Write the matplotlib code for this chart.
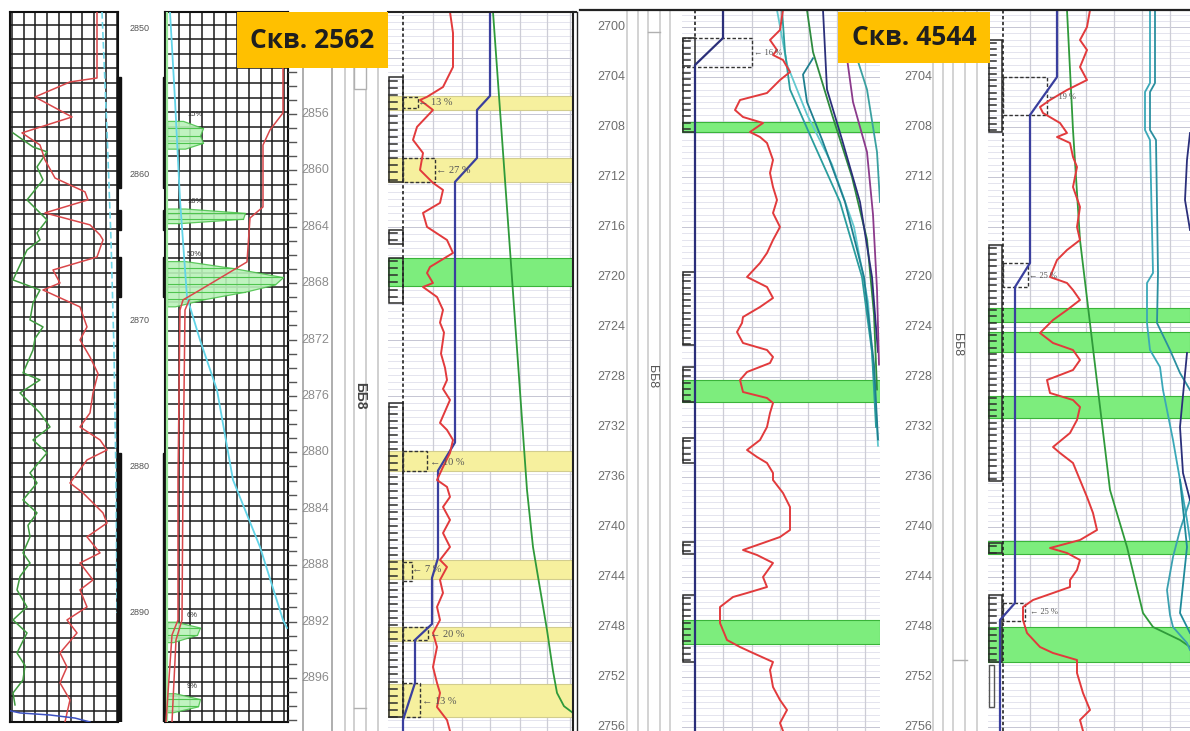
import numpy as np
import matplotlib.pyplot as plt
from matplotlib.patches import Rectangle

plt.rcParams['font.family'] = ['Liberation Sans', 'DejaVu Sans']

# ---------------- Скв. 2562 : old paper log (depth, reading) ----------------
old_top, old_base = 2848.84, 2897.47
old_depth_labels = [2850, 2860, 2870, 2880, 2890]

old_red = [(2848.84, 87), (2853.36, 87), (2853.63, 60), (2854.66, 25), (2856.03, 62), (2857.12, 12),
           (2857.95, 30), (2858.97, 35), (2860.21, 45), (2861.16, 75), (2861.71, 78), (2862.6, 35),
           (2863.42, 80), (2864.11, 90), (2864.45, 93), (2865.62, 87), (2866.51, 43), (2867.4, 50),
           (2867.88, 33), (2869.04, 70), (2870.41, 77), (2871.3, 70), (2872.47, 80), (2873.6, 88),
           (2874.93, 83), (2876.3, 80), (2877.26, 70), (2878.15, 90), (2878.84, 97), (2879.52, 77),
           (2881.1, 60), (2881.78, 73), (2883.15, 93), (2883.84, 97), (2884.79, 77), (2885.89, 90),
           (2886.58, 70), (2887.74, 83), (2888.42, 70), (2889.59, 77), (2890.48, 57), (2891.37, 67),
           (2892.74, 50), (2893.7, 57), (2894.79, 50), (2895.96, 60), (2896.85, 57), (2897.47, 55)]

old_green = [(2857.12, 3), (2857.6, 13), (2858.08, 23), (2858.42, 37), (2859.45, 27), (2860.34, 33),
             (2861.71, 17), (2863.08, 37), (2863.97, 27), (2864.45, 30), (2865.14, 17), (2867.19, 3),
             (2867.88, 30), (2868.77, 23), (2869.93, 20), (2870.41, 33), (2871.2, 25), (2871.99, 23),
             (2873.56, 13), (2874.04, 30), (2874.93, 10), (2876.3, 30), (2877.26, 40), (2878.15, 23),
             (2879.04, 37), (2880.41, 20), (2881.1, 27), (2882.26, 13), (2883.15, 27), (2884.0, 18),
             (2884.79, 20), (2885.89, 13), (2886.58, 20), (2887.5, 10), (2888.42, 7), (2889.59, 17),
             (2890.48, 3), (2891.37, 17), (2892.74, 7), (2893.6, 15), (2894.59, 13), (2895.48, 3),
             (2896.3, 5)]

old_cyan = [(2848.84, 92), (2857.0, 97), (2864.45, 101), (2872.0, 104), (2880.9, 106), (2890.0, 107)]
old_blue = [(2896.7, 0), (2896.85, 10), (2896.99, 40), (2897.2, 65), (2897.47, 80)]
old_perforations = [(2853.29, 2860.89), (2862.4, 2863.77), (2865.62, 2868.36), (2879.04, 2897.47)]

res_cyan = [(2848.84, 5), (2854.86, 10), (2861.71, 15), (2868.36, 22), (2871.3, 35), (2874.73, 52),
            (2880.89, 68), (2885.48, 95), (2890.48, 118), (2891.03, 122)]
res_red_1 = [(2848.84, 118), (2855.75, 118), (2856.92, 105), (2857.95, 98), (2862.19, 98), (2862.95, 85),
             (2865.96, 82), (2867.88, 35), (2868.56, 18), (2869.25, 15), (2880.89, 13), (2890.48, 13),
             (2891.51, 7), (2897.47, 1)]
res_red_2 = [(2868.6, 24), (2869.25, 20), (2880.89, 18), (2890.48, 17), (2891.85, 11), (2897.47, 7)]
res_edge = [(old_top, 2), (old_base, 2)]

# oil shows on the old resistivity track: label, depths, right edge
old_shows = [
    ('15%', [2856.3, 2856.8, 2857.3, 2857.8, 2858.2], [18, 38, 35, 38, 20]),
    ('16%', [2862.3, 2862.6, 2863.0, 2863.3], [20, 80, 78, 15]),
    ('50%', [2865.9, 2866.4, 2867.0, 2867.5, 2868.0, 2868.5, 2869.0], [20, 70, 118, 110, 80, 40, 10]),
    ('6%', [2890.6, 2891.0, 2891.5, 2892.0], [10, 35, 32, 8]),
    ('9%', [2895.5, 2895.9, 2896.4, 2896.8], [10, 35, 33, 8]),
]

# ---------------- Скв. 2562 : modern interpretation ----------------
new_top, new_base = 2848.77, 2899.76
new_depth_labels = list(range(2856, 2900, 4))

gk_2562 = [(2848.77, 62), (2850.26, 65), (2852.67, 65), (2854.09, 55), (2854.79, 39), (2855.01, 32),
           (2855.72, 45), (2856.92, 29), (2857.84, 25), (2858.77, 35), (2859.97, 32), (2860.89, 45),
           (2861.39, 55), (2862.31, 52), (2863.02, 35), (2864.01, 39), (2864.94, 59), (2865.86, 65),
           (2866.85, 42), (2867.28, 39), (2867.99, 45), (2868.27, 35), (2868.98, 49), (2869.9, 55),
           (2870.8, 52), (2871.5, 56), (2872.03, 55), (2873.0, 53), (2874.0, 57), (2874.87, 59),
           (2875.5, 55), (2876.28, 62), (2877.91, 52), (2878.41, 59), (2879.12, 65), (2880.04, 62),
           (2881.04, 55), (2881.96, 49), (2882.45, 59), (2883.16, 62), (2883.87, 55), (2884.79, 62),
           (2885.72, 55), (2886.71, 62), (2887.63, 52), (2888.13, 59), (2889.05, 52), (2889.97, 55),
           (2890.96, 49), (2891.89, 52), (2892.81, 45), (2893.8, 49), (2895.22, 45), (2896.35, 49),
           (2897.06, 52), (2898.06, 49), (2898.98, 59), (2899.76, 62)]
kp_2562 = [(2848.77, 102), (2854.72, 102), (2855.72, 89), (2859.12, 89), (2860.82, 67), (2879.3, 67),
           (2881.3, 50), (2887.49, 50), (2888.91, 44), (2892.17, 44), (2893.3, 27), (2896.35, 27),
           (2898.98, 15), (2899.76, 15)]
rt_2562 = [(2848.77, 105), (2865.65, 122), (2882.67, 139), (2886.71, 145), (2892.6, 159), (2895.5, 165),
           (2897.06, 169), (2898.0, 176), (2898.48, 185)]

yellow_2562 = [(2854.7, 2855.7), (2859.1, 2860.8), (2879.9, 2881.3), (2887.6, 2889.0), (2892.4, 2893.4),
               (2896.4, 2898.8)]
green_2562 = [(2866.2, 2868.2)]
lith_2562 = [(2853.4, 2860.8), (2864.2, 2865.2), (2866.2, 2869.4), (2876.5, 2898.8)]
boxes_2562 = [(2854.8, 2855.6, 30), (2859.1, 2860.8, 47), (2879.9, 2881.3, 39), (2887.8, 2889.1, 24),
              (2892.4, 2893.3, 40), (2896.35, 2898.8, 32)]
notes_2562 = [('← 13 %', 2855.2, 30), ('← 27 %', 2860.0, 48), ('← 10 %', 2880.7, 42),
              ('← 7 %', 2888.3, 24), ('← 20 %', 2892.95, 42), ('← 13 %', 2897.7, 34)]

# ---------------- Скв. 4544 ----------------
top_4544, base_4544 = 2698.64, 2756.32
depth_labels_4544 = list(range(2700, 2757, 4))
depth_labels_4544_right = list(range(2704, 2757, 4))  # 2700 sits under the well title

# left column of the slide (reference well)
kp_a = [(2698.64, 41), (2700.88, 41), (2703.04, 13), (2756.32, 13)]
gk_a = [(2698.64, 101), (2700.24, 98), (2701.04, 88), (2701.84, 95), (2702.24, 91), (2702.64, 101),
        (2703.6, 108), (2704.24, 98), (2705.28, 85), (2705.84, 58), (2706.64, 53), (2707.2, 61),
        (2707.68, 81), (2708.4, 68), (2708.8, 78), (2709.28, 85), (2710.64, 91), (2711.68, 88),
        (2712.8, 91), (2713.84, 95), (2714.88, 91), (2716.0, 98), (2717.04, 91), (2718.08, 85),
        (2718.88, 78), (2720.0, 65), (2720.8, 85), (2721.68, 91), (2722.4, 78), (2723.2, 61),
        (2723.68, 60), (2724.4, 55), (2725.28, 61), (2725.84, 85), (2726.4, 91), (2726.88, 88),
        (2727.6, 65), (2728.24, 58), (2729.2, 61), (2729.68, 85), (2730.08, 91), (2730.88, 88),
        (2732.0, 85), (2733.04, 78), (2733.84, 65), (2734.4, 75), (2734.88, 85), (2735.68, 91),
        (2736.24, 91), (2737.28, 101), (2738.4, 108), (2740.24, 108), (2740.8, 98), (2741.28, 81),
        (2741.84, 61), (2742.24, 75), (2742.88, 91), (2744.0, 81), (2744.8, 85), (2745.28, 65),
        (2745.6, 51), (2746.4, 38), (2747.68, 38), (2749.04, 45), (2749.6, 58), (2750.08, 71),
        (2750.8, 91), (2751.44, 88), (2752.8, 91), (2753.84, 98), (2754.64, 105), (2755.68, 98),
        (2756.32, 101)]
fan_a = [
    ('#63c9cf', [(2698.64, 95), (2703, 105), (2707, 125), (2711, 150), (2716, 172), (2722, 186),
                 (2728, 192), (2733.5, 196)]),
    ('#2a9d9d', [(2698.64, 100), (2702, 103), (2705, 108), (2709, 130), (2714, 158), (2720, 180),
                 (2726, 190), (2732, 194)]),
    ('#2e8b3e', [(2698.64, 125), (2702, 131), (2707, 150), (2712, 170), (2717, 185), (2723, 192),
                 (2729, 195)]),
    ('#1f7f8f', [(2702.5, 131), (2703.8, 121), (2706, 125), (2709, 140), (2714, 163), (2720, 182),
                 (2727, 192), (2733, 196)]),
    ('#2b2f7a', [(2698.64, 141), (2705, 145), (2709, 160), (2714, 178), (2720, 190), (2726, 196)]),
    ('#8b3a8b', [(2702.5, 165), (2706, 171), (2710, 185), (2715, 191), (2721, 195), (2727, 197)]),
    ('#3aa0a0', [(2702.5, 175), (2705, 185), (2710, 195), (2714, 198)]),
]
green_a = [(2707.6, 2708.4), (2728.2, 2730.0), (2747.4, 2749.4)]
lith_a = [(2700.9, 2708.4), (2719.6, 2725.4), (2727.2, 2730.0), (2732.9, 2734.9), (2741.2, 2742.2),
          (2745.4, 2750.8)]
boxes_a = [(2700.9, 2703.2, 70)]
notes_a = [('← 16 %', 2702.1, 72)]

# right column of the slide (well 4544)
kp_b = [(2698.64, 69), (2704.0, 69), (2707.04, 42), (2718.88, 42), (2720.8, 27), (2746.08, 27),
        (2747.44, 12), (2756.32, 12)]
gk_b = [(2698.64, 102), (2700.0, 99), (2701.04, 92), (2701.84, 99), (2703.2, 92), (2704.24, 99),
        (2705.04, 79), (2705.84, 62), (2706.4, 52), (2706.88, 55), (2707.68, 72), (2708.48, 79),
        (2708.8, 69), (2709.28, 82), (2710.4, 85), (2711.2, 89), (2712.8, 85), (2714.4, 92),
        (2716.0, 89), (2717.04, 92), (2717.84, 79), (2718.64, 69), (2720.0, 62), (2720.48, 79),
        (2721.04, 85), (2721.84, 92), (2722.64, 79), (2723.44, 65), (2724.24, 55), (2724.48, 52),
        (2725.28, 65), (2725.84, 85), (2726.64, 92), (2727.44, 85), (2728.24, 59), (2729.28, 62),
        (2729.84, 85), (2730.4, 92), (2731.44, 89), (2732.48, 82), (2733.6, 65), (2734.08, 72),
        (2734.88, 85), (2736.24, 92), (2737.6, 99), (2738.88, 105), (2740.24, 109), (2741.04, 92),
        (2741.68, 62), (2742.08, 79), (2742.64, 92), (2743.44, 89), (2744.24, 82), (2744.8, 82),
        (2745.28, 65), (2745.84, 45), (2746.4, 35), (2747.44, 35), (2748.48, 39), (2749.6, 52),
        (2750.08, 65), (2750.64, 89), (2751.68, 89), (2753.28, 95), (2754.64, 102), (2755.44, 92),
        (2756.32, 95)]
rt_b = [(2698.64, 79), (2708.24, 85), (2717.04, 92), (2737.04, 122), (2741.6, 139), (2746.88, 155),
        (2748.0, 165), (2749.04, 192), (2749.6, 202)]
fan_b = [
    ('#3aa8b8', [(2698.64, 162), (2704.48, 162), (2705.2, 157), (2708.24, 157), (2709.04, 162),
                 (2719.68, 165), (2720.48, 159), (2723.68, 159), (2725.84, 162), (2727.2, 172),
                 (2729.04, 175), (2733.04, 185), (2736.24, 192), (2739.44, 199), (2741.04, 202)]),
    ('#2b8f9f', [(2698.64, 167), (2704.48, 167), (2705.2, 162), (2708.24, 162), (2709.04, 168),
                 (2719.68, 170), (2723.68, 169), (2725.84, 182), (2727.68, 192), (2729.04, 202)]),
    ('#3aa0b0', [(2737.84, 202), (2740.24, 192), (2742.4, 185), (2745.04, 179), (2747.04, 182),
                 (2748.0, 185), (2749.28, 199), (2749.84, 202)]),
    ('#1f8a9a', [(2736.24, 192), (2741.6, 199), (2746.88, 192), (2748.48, 202)]),
    ('#2b2f7a', [(2708.48, 202), (2710.64, 199), (2713.84, 197), (2716.24, 202)]),
    ('#2b2f7a', [(2726.08, 199), (2732.0, 192), (2735.68, 195), (2737.84, 202)]),
]
green_b = [(2722.5, 2723.6), (2724.4, 2726.0), (2729.5, 2731.3), (2741.1, 2742.2), (2748.0, 2750.8)]
lith_b = [(2701.0, 2708.4), (2717.4, 2736.3), (2741.3, 2742.1), (2745.4, 2750.8)]
boxes_b = [(2704.0, 2707.04, 59), (2718.88, 2720.8, 40), (2746.08, 2747.5, 37)]
notes_b = [('← 19 %', 2705.6, 60), ('← 25 %', 2719.9, 41), ('← 25 %', 2746.8, 42)]

RED, BLUE, GREEN = '#e23a3c', '#3a3f9e', '#2f9a3a'

W, H = 1190, 731
fig = plt.figure(figsize=(W / 100, H / 100), dpi=100)
fig.patch.set_facecolor('white')


def add_track(x0, y0, x1, y1, xmax, top, base, frame=False):
    ax = fig.add_axes([x0 / W, 1 - y1 / H, (x1 - x0) / W, (y1 - y0) / H])
    ax.set_xlim(0, xmax)
    ax.set_ylim(base, top)
    ax.set_xticks([])
    ax.set_yticks([])
    ax.patch.set_alpha(0)
    for s in ax.spines.values():
        s.set_visible(frame)
        s.set_color('#111111')
        s.set_linewidth(1.5)
    return ax


def curve(ax, pts, color, lw=1.3, **kw):
    pts = np.asarray(pts, dtype=float)
    ax.plot(pts[:, 1], pts[:, 0], color=color, lw=lw, solid_joinstyle='round', zorder=4, **kw)


def old_grid(ax, xmax, top, base):
    for x in np.arange(2, xmax, 11.7):
        ax.axvline(x, color='#1a1a1a', lw=1.1, zorder=1)
    for d in np.arange(2849.7, base, 1.0):
        ax.axhline(d, color='#1a1a1a', lw=1.1, zorder=1)


def fine_grid(ax, xs, top, base):
    for d in np.arange(np.ceil(top * 2) / 2, base, 0.5):
        c = '#c5c5d3' if d % 4 == 0 else '#e4e4ee'
        ax.axhline(d, color=c, lw=0.7, zorder=0)
    for x in xs:
        ax.axvline(x, color='#cdcdd6', lw=0.9, zorder=0)


def bands(ax, intervals, face, edge):
    for t, b in intervals:
        ax.axhspan(t, b, facecolor=face, edgecolor=edge, lw=0.8, zorder=0.5)


def lithology(ax, intervals, width, comb, step=0.5):
    for t, b in intervals:
        ax.add_patch(Rectangle((0.5, t), width - 0.5, b - t, fill=False, ec='#2b2b2b', lw=1.1, zorder=3))
        for d in np.arange(t + step / 2, b, step):
            ax.plot([0.5, comb], [d, d], color='#2b2b2b', lw=1.1, zorder=3)


def dashed_boxes(ax, boxes, x0):
    for t, b, right in boxes:
        ax.add_patch(Rectangle((x0, t), right - x0, b - t, fill=False, ec='#333333', lw=1.0,
                               ls=(0, (2.5, 1.5)), zorder=3))


def notes(ax, items, size=7.5):
    for text, d, x in items:
        ax.text(x, d, text, ha='left', va='center', fontsize=size, color='#555555',
                family=['Liberation Serif', 'DejaVu Serif'], zorder=5)


def depth_column(ax, depths, x, size, color, **kw):
    for d in depths:
        ax.text(x, d, str(d), ha='center', va='center', fontsize=size, color=color, zorder=5, **kw)


# ---- old log, track 1 (SP / GR) ----
ax = add_track(10, 12, 118, 722, 108, old_top, old_base, frame=True)
old_grid(ax, 108, old_top, old_base)
curve(ax, old_cyan, '#6fd6e8', lw=1.2, ls=(0, (4, 2)))
curve(ax, old_green, '#3f9a3f', lw=1.1)
curve(ax, old_red, '#d9474a', lw=1.1)
curve(ax, old_blue, '#3b4fc0', lw=1.1)

# depth column with perforation marks
ax = add_track(116, 12, 167, 722, 51, old_top, old_base)
for t, b in old_perforations:
    ax.add_patch(Rectangle((1, t), 3.5, b - t, color='#111111', zorder=3))
    ax.add_patch(Rectangle((46.5, t), 3.5, b - t, color='#111111', zorder=3))
depth_column(ax, old_depth_labels, 24, 6.5, '#555555')

# ---- old log, track 2 (resistivity) ----
ax = add_track(165, 12, 288, 722, 123, old_top, old_base, frame=True)
old_grid(ax, 123, old_top, old_base)
for label, d, v in old_shows:
    ax.fill_betweenx(d, 2, v, facecolor='#b9f2b9', edgecolor='#4fc44f', lw=0.9, alpha=0.9, zorder=2)
    for dd, vv in zip(d[1:-1], v[1:-1]):
        ax.plot([2, vv], [dd, dd], color='#4fc44f', lw=0.8, zorder=2)
    ax.text(22, d[0] - 0.35, label, fontsize=5.5, color='#333333', zorder=5)
curve(ax, res_edge, '#9be89b', lw=1.6)
curve(ax, res_cyan, '#62d4e8', lw=1.3)
curve(ax, res_red_1, '#d9474a', lw=1.1)
curve(ax, res_red_2, '#d9474a', lw=1.1)

# ---- modern depth track ----
ax = add_track(288, 12, 388, 731, 100, new_top, new_base)
for d in np.arange(2849, new_base, 1.0):
    ax.plot([0, 8], [d, d], color='#555555', lw=1.0)
for x in [15, 44]:
    ax.axvline(x, color='#a8a8a8', lw=1.3)
for x in [57, 66, 78, 90]:
    ax.axvline(x, color='#c4c4c4', lw=1.1)
ax.add_patch(Rectangle((66, 2852.6), 12, 1.6, fc='white', ec='#b0b0b0', lw=1.0, zorder=3))
ax.plot([66, 78], [2898.1, 2898.1], color='#b0b0b0', lw=1.0)
depth_column(ax, new_depth_labels, 27, 9, '#8c8c8c')
ax.text(72, 2876, 'ББ8', rotation=-90, ha='center', va='center', fontsize=10, fontweight='bold',
        color='#444444')

# ---- modern interpretation track ----
ax = add_track(388, 12, 573, 731, 185, new_top, new_base)
fine_grid(ax, [45, 74, 102, 132, 159, 182], new_top, new_base)
bands(ax, yellow_2562, '#f6f09e', '#d2cd8e')
bands(ax, green_2562, '#7ded7d', '#3ab43a')
lithology(ax, lith_2562, 15, 9)
ax.axvline(15, color='#222222', lw=1.2, ls=(0, (2, 1.5)), zorder=3)
dashed_boxes(ax, boxes_2562, 15)
curve(ax, rt_2562, GREEN, lw=1.3)
curve(ax, kp_2562, BLUE, lw=1.6)
curve(ax, gk_2562, RED, lw=1.4)
notes(ax, notes_2562)

# ---- well 4544, left column ----
ax = add_track(580, 10, 682, 731, 102, top_4544, base_4544)
for x in [47, 58, 68, 80, 90]:
    ax.axvline(x, color='#c8c8c8', lw=1.1)
ax.plot([68, 80], [2700.4, 2700.4], color='#b0b0b0', lw=1.0)
depth_column(ax, depth_labels_4544, 31, 9, '#6e6e6e')
ax.text(72, 2728, 'ББ8', rotation=-90, ha='center', va='center', fontsize=9, color='#555555')

ax = add_track(682, 10, 880, 731, 198, top_4544, base_4544)
fine_grid(ax, [41, 70, 98, 126, 155, 183], top_4544, base_4544)
bands(ax, green_a, '#7ded7d', '#3ab43a')
lithology(ax, lith_a, 13, 8)
ax.plot([13, 13], [top_4544, 2700.9], color='#222222', lw=1.2, ls=(0, (2, 1.5)), zorder=3)
dashed_boxes(ax, boxes_a, 0)
for color, pts in fan_a:
    curve(ax, pts, color, lw=1.3)
curve(ax, kp_a, '#2b2f7a', lw=1.6)
curve(ax, gk_a, RED, lw=1.4)
notes(ax, notes_a, size=6)

# ---- well 4544, right column ----
ax = add_track(880, 10, 988, 731, 108, top_4544, base_4544)
for x in [53, 63, 73, 85, 97]:
    ax.axvline(x, color='#c8c8c8', lw=1.1)
ax.plot([73, 87], [2750.6, 2750.6], color='#b0b0b0', lw=1.0)
depth_column(ax, depth_labels_4544_right, 38, 9, '#6e6e6e')
ax.text(77, 2725.4, 'ББ8', rotation=-90, ha='center', va='center', fontsize=9, color='#555555')

ax = add_track(988, 10, 1190, 731, 202, top_4544, base_4544)
fine_grid(ax, [42, 70, 98, 126, 154, 182], top_4544, base_4544)
bands(ax, green_b, '#7ded7d', '#3ab43a')
lithology(ax, lith_b, 14, 8)
ax.add_patch(Rectangle((0.5, 2751.0), 5, 3.4, fill=False, ec='#555555', lw=1.0, zorder=3))
ax.axvline(15, color='#222222', lw=1.2, ls=(0, (2, 1.5)), zorder=3)
dashed_boxes(ax, boxes_b, 15)
curve(ax, rt_b, GREEN, lw=1.3)
for color, pts in fan_b:
    curve(ax, pts, color, lw=1.3)
curve(ax, kp_b, BLUE, lw=1.6)
curve(ax, gk_b, RED, lw=1.4)
notes(ax, notes_b, size=6)

# panel frame lines
frame = fig.add_axes([0, 0, 1, 1])
frame.set_xlim(0, W)
frame.set_ylim(H, 0)
frame.axis('off')
frame.patch.set_alpha(0)
for xs, ys, lw in [([388, 576], [12, 12], 1.5), ([573, 573], [12, 731], 1.5), ([576.5, 576.5], [12, 731], 1.0),
                   ([580, 1190], [10, 10], 1.6)]:
    frame.plot(xs, ys, color='#222222', lw=lw)


def well_box(x0, y0, x1, y1, title):
    bx = fig.add_axes([x0 / W, 1 - y1 / H, (x1 - x0) / W, (y1 - y0) / H])
    bx.set_facecolor('#ffc000')
    bx.set_xticks([])
    bx.set_yticks([])
    for s in bx.spines.values():
        s.set_visible(False)
    bx.text(0.5, 0.5, title, ha='center', va='center', fontsize=19, fontweight='bold', color='#1f1f1f',
            family=['Open Sans', 'DejaVu Sans'], transform=bx.transAxes)


well_box(237, 12, 388, 68, 'Скв. 2562')
well_box(838, 12, 990, 63, 'Скв. 4544')

fig.savefig('out.png', dpi=100)
